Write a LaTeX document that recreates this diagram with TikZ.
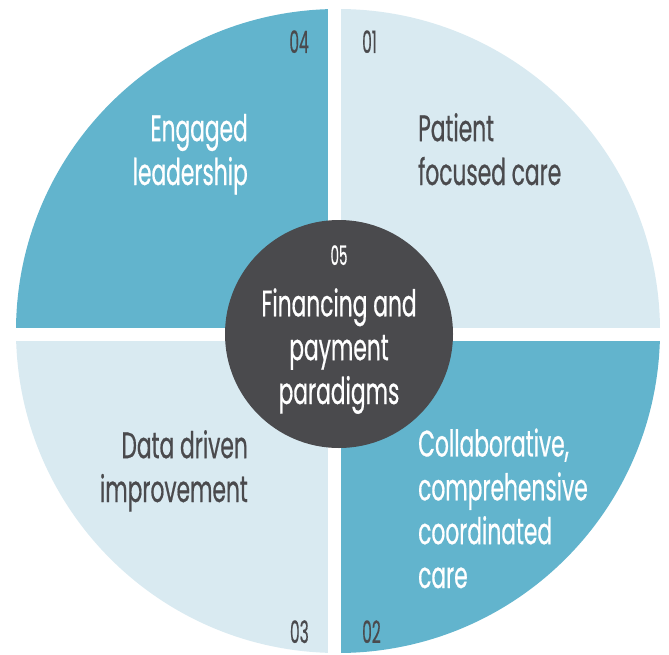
\documentclass[tikz,border=0pt]{standalone}
\usepackage{fontspec}
\setmainfont[FakeStretch=0.59,FakeBold=0.5]{Poppins}
\newfontfamily\numfont[FakeStretch=0.5,FakeBold=0.4]{Poppins}
\usetikzlibrary{positioning}
\definecolor{wheelblue}{HTML}{62B4CD}
\definecolor{wheellight}{HTML}{D9EAF1}
\definecolor{hubgray}{HTML}{4A4A4D}
\definecolor{inkgray}{HTML}{4A4A4D}

\begin{document}
\begin{tikzpicture}[
  x=1bp,y=-1bp,
  every node/.style={inner sep=0pt,font=\fontsize{37}{44}\selectfont},
  num node/.style={font=\numfont\fontsize{31}{31}\selectfont,text=inkgray},
  dark label/.style={text=inkgray},
  light label/.style={text=white},
  ]
  \useasboundingbox (0,0) rectangle (669,655);
  % the four quarters
  \begin{scope}
    \clip (338,331) circle[radius=322];
    \fill[wheelblue] (0,0) rectangle (328,327.5);
    \fill[wheellight] (341,0) rectangle (669,327.5);
    \fill[wheellight] (0,341) rectangle (328,655);
    \fill[wheelblue] (341,341) rectangle (669,655);
  \end{scope}
  % hub
  \node[circle,fill=hubgray,minimum size=228bp] (hub) at (339,334) {};
  \node[num node,text=white,font=\numfont\fontsize{27}{27}\selectfont,anchor=base] (n05) at (339,265) {05};
  \node[light label,align=center,anchor=base] (finance) at (339,404) {Financing and\\payment\\paradigms};
  % numbers
  \node[num node,anchor=base east] (n04) at (309,53) {04};
  \node[num node,anchor=base west] (n01) at (362,53) {01};
  \node[num node,anchor=base east] (n03) at (309,643) {03};
  \node[num node,anchor=base west] (n02) at (362,643) {02};
  % quarter labels
  \node[light label,align=right,anchor=base east] (leader) at (248,185) {Engaged\\leadership};
  \node[dark label,align=left,anchor=base west] (patient) at (418,185) {Patient\\focused care};
  \node[dark label,align=right,anchor=base east] (data) at (248,502) {Data driven\\improvement};
  \node[light label,align=left,anchor=base west] (collab) at (418,588) {Collaborative,\\comprehensive\\coordinated\\care};
\end{tikzpicture}
\end{document}
